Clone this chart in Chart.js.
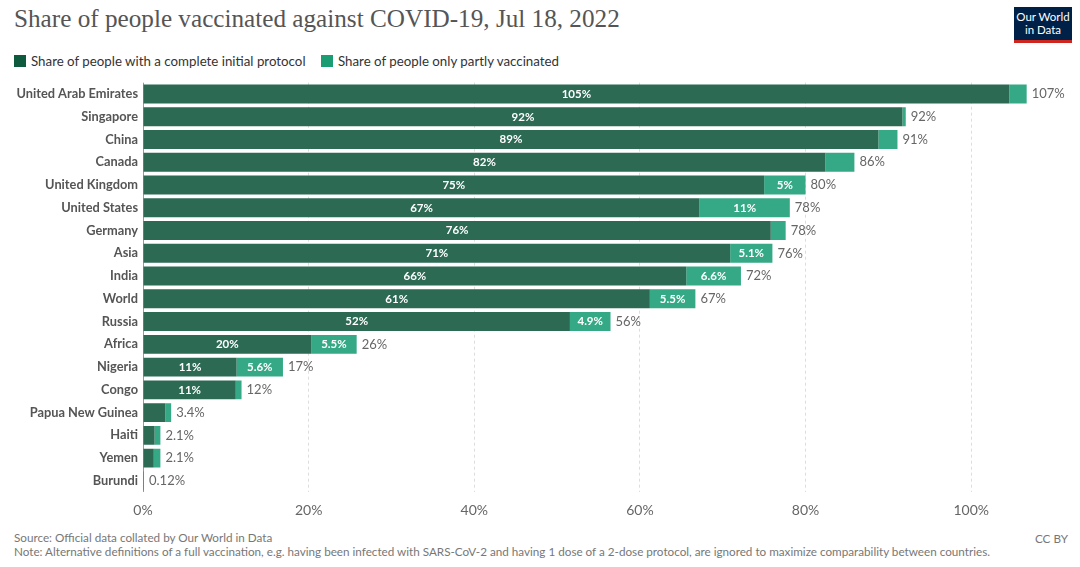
<!DOCTYPE html>
<html>
<head>
<meta charset="utf-8">
<script src="https://cdn.jsdelivr.net/npm/chart.js@4"></script>
<style>
  body { margin: 0; width: 1080px; height: 567px; background: #fff; font-family: Lato, sans-serif; position: relative; overflow: hidden; }
  .title { position: absolute; left: 14px; top: 5px; font-family: "Liberation Serif", "DejaVu Serif", serif; font-size: 25.2px; color: #555; }
  .legend { position: absolute; left: 14px; top: 53px; font-size: 13.3px; color: #333; }
  .legend span.box { display: inline-block; width: 12px; height: 12px; vertical-align: -1px; margin-right: 5px; }
  .legend span.item { margin-right: 12px; }
  .logo { position: absolute; left: 1014px; top: 7px; width: 58px; height: 30px; background: #002147; color: #fff; font-size: 11.5px; line-height: 13px; text-align: center; padding-top: 3px; border-bottom: 3px solid #ce261e; }
  .foot { position: absolute; left: 14px; font-size: 11.7px; color: #777; }
  .ccby { position: absolute; right: 12px; top: 531px; font-size: 11.7px; color: #777; }
  #wrap { position: absolute; left: 0; top: 70px; width: 1080px; height: 459px; }
</style>
</head>
<body>
<div class="title">Share of people vaccinated against COVID-19, Jul 18, 2022</div>
<div class="logo">Our World<br>in Data</div>
<div class="legend">
  <span class="item"><span class="box" style="background:#0d5a3e"></span>Share of people with a complete initial protocol</span>
  <span class="item"><span class="box" style="background:#1a9d72"></span>Share of people only partly vaccinated</span>
</div>
<div id="wrap"><canvas id="myChart"></canvas></div>
<div class="foot" style="top:530px">Source: Official data collated by Our World in Data</div>
<div class="foot" style="top:544px">Note: Alternative definitions of a full vaccination, e.g. having been infected with SARS-CoV-2 and having 1 dose of a 2-dose protocol, are ignored to maximize comparability between countries.</div>
<div class="ccby">CC BY</div>

<script>
var countries = ["United Arab Emirates", "Singapore", "China", "Canada", "United Kingdom", "United States",
    "Germany", "Asia", "India", "World", "Russia", "Africa", "Nigeria", "Congo",
    "Papua New Guinea", "Haiti", "Yemen", "Burundi"];
var complete = [104.6, 91.7, 88.8, 82.4, 75.0, 67.2, 75.8, 70.9, 65.6, 61.2, 51.55, 20.3, 11.3, 11.2, 2.7, 1.4, 1.3, 0.1];
var partly = [2.1, 0.4, 2.3, 3.5, 5.0, 10.9, 1.8, 5.1, 6.6, 5.5, 4.9, 5.5, 5.6, 0.7, 0.7, 0.7, 0.8, 0.02];
var xTicks = [0, 20, 40, 60, 80, 100];

var darkColor = "#2c6a54";
var lightColor = "#35a985";

function fmt(v) {
    if (v >= 9.95) return Math.round(v) + "%";
    return Number(v.toPrecision(2)) + "%";
}

// labels inside the bars and totals at the end
var barLabels = {
    id: "barLabels",
    afterDatasetsDraw(chart) {
        let ctx = chart.ctx;
        ctx.save();
        ctx.textBaseline = "middle";
        chart.data.datasets.forEach((ds, di) => {
            let meta = chart.getDatasetMeta(di);
            meta.data.forEach((bar, i) => {
                let w = Math.abs(bar.x - bar.base);
                let v = ds.data[i];
                let txt = fmt(v);
                ctx.font = "bold 11.5px Lato";
                let tw = ctx.measureText(txt).width;
                if (w > tw + 12) {
                    ctx.fillStyle = "#fff";
                    ctx.textAlign = "center";
                    ctx.fillText(txt, (bar.x + bar.base) / 2, bar.y);
                }
                if (di == 1) {
                    ctx.font = "13px Lato";
                    ctx.fillStyle = "#666";
                    ctx.textAlign = "left";
                    ctx.fillText(fmt(complete[i] + partly[i]), bar.x + 5, bar.y);
                }
            });
        });
        ctx.restore();
    }
};

new Chart("myChart", {
    type: "bar",
    data: {
        labels: countries,
        datasets: [{
            label: "Share of people with a complete initial protocol",
            data: complete,
            backgroundColor: darkColor,
            barPercentage: 0.83,
            categoryPercentage: 1
        }, {
            label: "Share of people only partly vaccinated",
            data: partly,
            backgroundColor: lightColor,
            barPercentage: 0.83,
            categoryPercentage: 1
        }]
    },
    options: {
        indexAxis: "y",
        responsive: true,
        maintainAspectRatio: false,
        animation: false,
        layout: { padding: { top: 4, right: 26, bottom: 0, left: 0 } },
        plugins: {
            legend: { display: false },
            tooltip: { enabled: false }
        },
        scales: {
            x: {
                stacked: true,
                min: 0,
                max: 110,
                afterBuildTicks: (scale) => { scale.ticks = xTicks.map(v => ({ value: v })); },
                grid: {
                    color: (c) => c.tick && c.tick.value === 0 ? "#999" : "#ddd",
                    drawTicks: false
                },
                border: { display: false, dash: (c) => c.tick && c.tick.value === 0 ? [] : [3, 3] },
                ticks: {
                    color: "#666",
                    font: { family: "Lato", size: 14 },
                    padding: 10,
                    callback: (v) => v + "%"
                }
            },
            y: {
                stacked: true,
                afterFit: (scale) => { scale.width = 143; },
                grid: { display: false, drawTicks: false },
                border: { display: false },
                ticks: {
                    color: "#555",
                    font: { family: "Lato", size: 12.8, weight: "bold" },
                    padding: 5,
                    autoSkip: false
                }
            }
        }
    },
    plugins: [barLabels]
});
</script>
</body>
</html>
